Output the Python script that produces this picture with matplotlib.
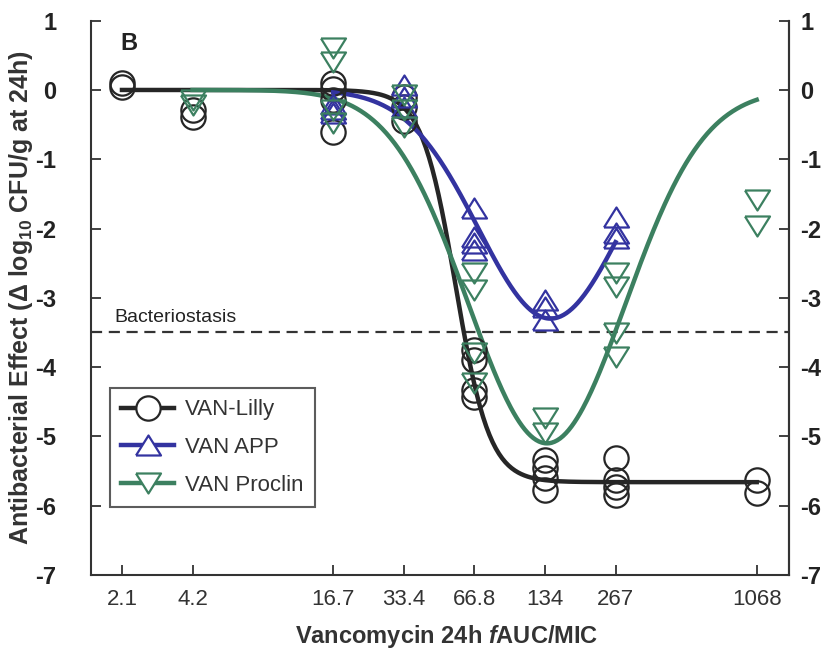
import numpy as np
import matplotlib
matplotlib.use("Agg")
import matplotlib.pyplot as plt
from matplotlib.lines import Line2D

plt.rcParams['font.family'] = ['Liberation Sans', 'DejaVu Sans']
plt.rcParams['mathtext.fontset'] = 'custom'
plt.rcParams['mathtext.rm'] = 'Liberation Sans:bold'
plt.rcParams['mathtext.it'] = 'Liberation Sans:bold:italic'
plt.rcParams['mathtext.bf'] = 'Liberation Sans:bold'

# exposure groups (fAUC/MIC) and tick labels
doses = [2.1, 4.2, 16.7, 33.4, 66.8, 134, 267, 1068]
dose_labels = ["2.1", "4.2", "16.7", "33.4", "66.8", "134", "267", "1068"]
y_ticks = [1, 0, -1, -2, -3, -4, -5, -6, -7]

# observed effects per dose (delta log10 CFU/g at 24h)
lilly_x = [2.1, 2.1, 4.2, 4.2,
           16.7, 16.7, 16.7, 16.7,
           33.4, 33.4, 33.4,
           66.8, 66.8, 66.8, 66.8,
           134, 134, 134, 134,
           267, 267, 267, 267,
           1068, 1068]
lilly_y = [0.10, 0.04, -0.29, -0.39,
           0.10, 0.02, -0.15, -0.60,
           -0.10, -0.25, -0.45,
           -3.75, -3.90, -4.33, -4.43,
           -5.34, -5.45, -5.60, -5.77,
           -5.31, -5.63, -5.73, -5.84,
           -5.63, -5.82]

app_x = [16.7, 16.7, 16.7,
         33.4, 33.4, 33.4,
         66.8, 66.8, 66.8, 66.8,
         134, 134, 134,
         267, 267, 267]
app_y = [-0.20, -0.28, -0.33,
         0.07, -0.10, -0.25,
         -1.70, -2.12, -2.21, -2.31,
         -3.03, -3.13, -3.32,
         -1.83, -2.06, -2.14]

proclin_x = [4.2, 4.2,
             16.7, 16.7, 16.7, 16.7,
             33.4, 33.4, 33.4,
             66.8, 66.8, 66.8, 66.8,
             134, 134,
             267, 267, 267, 267,
             1068, 1068]
proclin_y = [-0.14, -0.22,
             0.61, 0.40, -0.29, -0.48,
             -0.07, -0.29, -0.53,
             -2.64, -2.89, -3.80, -4.23,
             -4.73, -4.95,
             -2.64, -2.84, -3.51, -3.85,
             -1.59, -1.96]

bacteriostasis = -3.49

# fitted model parameters
lilly_emax, lilly_ec50, lilly_hill = 5.66, 55.6, 6.0
app_depth, app_center, app_width = 3.30, 7.14, 1.02        # center/width in log2 units
proclin_depth, proclin_center, proclin_width = 5.10, 7.09, 1.11

c_black = "#262626"
c_blue = "#3333a0"
c_green = "#3c8060"
c_axis = "#333333"

tri_down = [(-1, 0.8), (1, 0.8), (0, -0.8), (-1, 0.8)]
tri_up = [(-1, -0.8), (1, -0.8), (0, 0.8), (-1, -0.8)]


def hill(x, emax, ec50, h):
    return -emax * x ** h / (ec50 ** h + x ** h)


def dip(x, depth, center, width):
    u = np.log2(x)
    return -depth * np.exp(-(u - center) ** 2 / (2 * width ** 2))


fig = plt.figure(figsize=(8.21, 6.52), dpi=100)
ax = fig.add_axes([0.1108, 0.1181, 0.8502, 0.8502])

xs_lilly = np.geomspace(2.1, 1068, 400)
xs_app = np.geomspace(16.7, 267, 300)
xs_proclin = np.geomspace(4.2, 1068, 400)

ax.axhline(bacteriostasis, color=c_axis, lw=1.6, ls=(0, (5, 3)), zorder=1)
ax.text(0.034, -3.28, "Bacteriostasis", transform=ax.get_yaxis_transform(), fontsize=14,
        va="center", ha="left", color="#222222")

ax.plot(xs_lilly, hill(xs_lilly, lilly_emax, lilly_ec50, lilly_hill), color=c_black, lw=3.2, zorder=2)
ax.plot(xs_app, dip(xs_app, app_depth, app_center, app_width), color=c_blue, lw=3.2, zorder=2)
ax.plot(xs_proclin, dip(xs_proclin, proclin_depth, proclin_center, proclin_width), color=c_green, lw=3.2, zorder=2)

ax.plot(lilly_x, lilly_y, ls="none", marker="o", ms=17.5, mfc="none", mec=c_black, mew=1.6, zorder=3)
ax.plot(app_x, app_y, ls="none", marker=tri_up, ms=18, mfc="none", mec=c_blue, mew=1.6, zorder=3)
ax.plot(proclin_x, proclin_y, ls="none", marker=tri_down, ms=18, mfc="none", mec=c_green, mew=1.6, zorder=3)

ax.set_xscale("log")
ax.set_xlim(1.549, 1466)
ax.set_ylim(-7, 1)
ax.set_xticks(doses)
ax.set_xticklabels(dose_labels)
ax.minorticks_off()
ax.set_yticks(y_ticks)
ax.set_yticklabels([str(v) for v in y_ticks], fontweight="bold")

ax.spines["top"].set_visible(False)
for s in ("left", "right", "bottom"):
    ax.spines[s].set_linewidth(1.5)
    ax.spines[s].set_color(c_axis)

ax.tick_params(axis="x", direction="in", length=7, width=1.3, labelsize=16, pad=10,
               colors=c_axis, labelcolor=c_axis)
ax.tick_params(axis="y", direction="in", length=7, width=1.3, labelsize=17, pad=25,
               left=True, right=False, colors=c_axis, labelcolor="#222222")

# right-hand copy of the y scale
ax2 = ax.secondary_yaxis("right")
ax2.set_yticks(y_ticks)
ax2.set_yticklabels([str(v) for v in y_ticks], fontweight="bold")
ax2.spines["right"].set_linewidth(1.5)
ax2.spines["right"].set_color(c_axis)
ax2.tick_params(axis="y", direction="in", length=7, width=1.3, labelsize=17, pad=8,
                colors=c_axis, labelcolor="#222222")

ax.set_xlabel(r"Vancomycin 24h $\it{f}$AUC/MIC", fontsize=17, fontweight="bold", color=c_axis)
ax.xaxis.set_label_coords(0.51, -0.086)
ax.set_ylabel(r"Antibacterial Effect (Δ log$_{10}$ CFU/g at 24h)", fontsize=18, fontweight="bold",
              color=c_axis)
ax.yaxis.set_label_coords(-0.080, 0.5)

ax.text(0.042, 0.958, "B", transform=ax.transAxes, fontsize=17, fontweight="bold", va="center", ha="left",
        color="#222222")

handles = [
    Line2D([], [], color=c_black, lw=3.2, marker="o", ms=17.5, mfc="white", mec=c_black, mew=1.6),
    Line2D([], [], color=c_blue, lw=3.2, marker=tri_up, ms=18, mfc="white", mec=c_blue, mew=1.6),
    Line2D([], [], color=c_green, lw=3.2, marker=tri_down, ms=18, mfc="white", mec=c_green, mew=1.6),
]
leg = ax.legend(handles, ["VAN-Lilly", "VAN APP", "VAN Proclin"], loc="lower left",
                bbox_to_anchor=(0.027, 0.123), borderaxespad=0, fontsize=16, frameon=True,
                fancybox=False, edgecolor=c_axis, handlelength=2.4, handletextpad=0.5,
                labelspacing=0.75, borderpad=0.5)
leg.get_frame().set_linewidth(1.5)
for t in leg.get_texts():
    t.set_color(c_axis)

fig.savefig("out.png", dpi=100)
